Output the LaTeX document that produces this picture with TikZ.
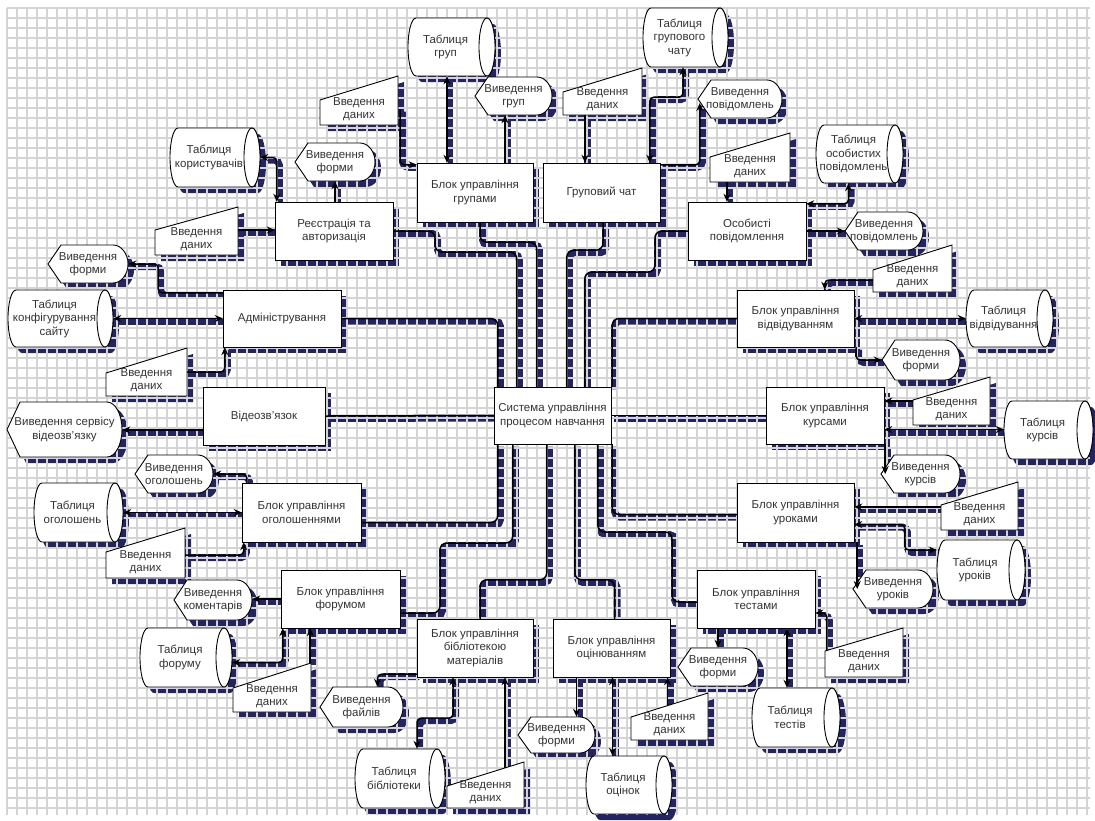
\documentclass[tikz,border=0pt]{standalone}
\usepackage{fontspec}
\setmainfont{Liberation Sans}
\usetikzlibrary{arrows.meta,calc}
\pgfdeclarelayer{shadow}
\pgfdeclarelayer{grid}
\pgfdeclarelayer{shapes}
\pgfsetlayers{shadow,grid,shapes,main}
\definecolor{shc}{RGB}{36,36,96}
\definecolor{gridc}{RGB}{212,212,212}
\tikzset{
  outl/.style={draw=black,line width=0.9pt,fill=white},
  txt/.style={font=\fontsize{11.5}{13.5}\selectfont,align=center,inner sep=0pt,text=black!80},
  wire/.style={draw=black,line width=1.5pt,rounded corners=4pt},
  cwire/.style={rounded corners=7pt},
  band/.style={draw=shc,line width=7pt,rounded corners=5pt},
  arr/.style={-{Stealth[length=8pt,width=7pt]}},
  biarr/.style={{Stealth[length=8pt,width=7pt]}-{Stealth[length=8pt,width=7pt]}},
}
% process box: name x1 y1 x2 y2 text
\newcommand\procnode[6]{%
  \begin{pgfonlayer}{shadow}\fill[shc] (#2+6,-#3-6) rectangle (#4+6,-#5-6);\end{pgfonlayer}
  \begin{pgfonlayer}{shapes}\draw[outl] (#2,-#3) rectangle (#4,-#5);\end{pgfonlayer}
  \node[txt,minimum width={(#4-#2)*1pt},minimum height={(#5-#3)*1pt}] (#1) at ({(#2+#4)/2},{-(#3+#5)/2}) {#6};}
% cylinder
\newcommand\cylnode[6]{%
  \pgfmathsetmacro\hh{(#5-#3)/2}%
  \begin{pgfonlayer}{shadow}\fill[shc,shift={(6,-6)}] (#2+8,-#3) -- (#4-8,-#3) arc[start angle=90,end angle=-90,x radius=8,y radius=\hh] -- (#2+8,-#5) arc[start angle=270,end angle=90,x radius=8,y radius=\hh] -- cycle;\end{pgfonlayer}
  \begin{pgfonlayer}{shapes}\draw[outl] (#2+8,-#3) -- (#4-8,-#3) arc[start angle=90,end angle=-90,x radius=8,y radius=\hh] -- (#2+8,-#5) arc[start angle=270,end angle=90,x radius=8,y radius=\hh] -- cycle;
  \draw[outl] (#4-8,{-(#3+#5)/2}) ellipse[x radius=8,y radius=\hh];\end{pgfonlayer}
  \node[inner sep=0pt,minimum width={(#4-#2)*1pt},minimum height={(#5-#3)*1pt}] (#1) at ({(#2+#4)/2},{-(#3+#5)/2}) {};
  \node[txt] (#1t) at ({(#2+#4)/2-6},{-(#3+#5)/2}) {#6};}
% display
\newcommand\dispnode[6]{%
  \pgfmathsetmacro\hh{(#5-#3)/2}%
  \begin{pgfonlayer}{shadow}\fill[shc,shift={(6,-6)}] (#2,{-(#3+#5)/2}) -- (#2+13,-#3) -- (#4-15,-#3) arc[start angle=90,end angle=-90,x radius=15,y radius=\hh] -- (#2+13,-#5) -- cycle;\end{pgfonlayer}
  \begin{pgfonlayer}{shapes}\draw[outl] (#2,{-(#3+#5)/2}) -- (#2+13,-#3) -- (#4-15,-#3) arc[start angle=90,end angle=-90,x radius=15,y radius=\hh] -- (#2+13,-#5) -- cycle;\end{pgfonlayer}
  \node[txt,minimum width={(#4-#2)*1pt},minimum height={(#5-#3)*1pt}] (#1) at ({(#2+#4)/2},{-(#3+#5)/2}) {#6};}
% manual input: name x1 yleft x2 ytopright ybottom
\newcommand\ionode[6]{%
  \begin{pgfonlayer}{shadow}\fill[shc,shift={(6,-6)}] (#2,-#3) -- (#4,-#5) -- (#4,-#6) -- (#2,-#6) -- cycle;\end{pgfonlayer}
  \begin{pgfonlayer}{shapes}\draw[outl] (#2,-#3) -- (#4,-#5) -- (#4,-#6) -- (#2,-#6) -- cycle;\end{pgfonlayer}
  \node[txt,minimum width={(#4-#2)*1pt},minimum height=32pt] (#1) at ({(#2+#4)/2},{-#6+16}) {Введення\\даних};}
% connector with shadow band
\newcommand\conn[2]{%
  \begin{pgfonlayer}{shadow}\draw[band,transform canvas={xshift=2.5pt,yshift=-2.5pt}] #2;\end{pgfonlayer}
  \draw[wire,#1] #2;}
\begin{document}
\begin{tikzpicture}[x=1pt,y=1pt]
\useasboundingbox (0,0) rectangle (1095,-820);
\begin{pgfonlayer}{grid}
\foreach \i in {0,...,108} \draw[gridc,line width=1.1pt] (7+10*\i,-8) -- (7+10*\i,-815);
\foreach \j in {0,...,80} \draw[gridc,line width=1.1pt] (7,-8-10*\j) -- (1090,-8-10*\j);
\end{pgfonlayer}
% central box (no shadow)
\begin{pgfonlayer}{shapes}\draw[outl] (494,-387) rectangle (611,-444);\end{pgfonlayer}
\node[txt,minimum width=117pt,minimum height=57pt] (cs) at (552.5,-415.5) {Система управління\\процесом навчання};
% blocks
\procnode{grp}{417}{163}{533}{222}{Блок управління\\групами}
\procnode{gch}{543}{163}{660}{222}{Груповий чат}
\procnode{reg}{275}{202}{393}{260}{Реєстрація та\\авторизація}
\procnode{pm}{688}{202}{806}{260}{Особисті\\повідомлення}
\procnode{adm}{223}{290}{341}{347}{Адміністрування}
\procnode{att}{737}{290}{854}{347}{Блок управління\\відвідуванням}
\procnode{vid}{203}{387}{325}{445}{Відеозв’язок}
\procnode{crs}{766}{387}{884}{444}{Блок управління\\курсами}
\procnode{ann}{242}{483}{361}{542}{Блок управління\\оголошеннями}
\procnode{les}{737}{483}{854}{542}{Блок управління\\уроками}
\procnode{frm}{281}{570}{400}{628}{Блок управління\\форумом}
\procnode{tst}{697}{570}{815}{628}{Блок управління\\тестами}
\procnode{lib}{417}{619}{533}{677}{Блок управління\\бібліотекою\\матеріалів}
\procnode{grd}{553}{619}{670}{677}{Блок управління\\оцінюванням}
% tables
\cylnode{tgrp}{408}{18}{495}{76}{Таблиця\\груп}
\cylnode{tgch}{643}{8}{728}{67}{Таблиця\\групового\\чату}
\cylnode{tpm}{816}{125}{903}{183}{Таблиця\\особистих\\повідомлень}
\cylnode{tatt}{966}{290}{1053}{347}{Таблиця\\відвідування}
\cylnode{tcrs}{1004}{401}{1093}{459}{Таблиця\\курсів}
\cylnode{tles}{937}{540}{1025}{600}{Таблиця\\уроків}
\cylnode{ttst}{752}{688}{840}{747}{Таблиця\\тестів}
\cylnode{tgrd}{586}{756}{672}{814}{Таблиця\\оцінок}
\cylnode{tlib}{355}{749}{445}{808}{Таблиця\\бібліотеки}
\cylnode{tfrm}{140}{628}{232}{687}{Таблиця\\форуму}
\cylnode{tann}{34}{483}{123}{542}{Таблиця\\оголошень}
\cylnode{tadm}{8}{290}{113}{347}{Таблиця\\конфігурування\\сайту}
\cylnode{treg}{170}{128}{260}{187}{Таблиця\\користувачів}
% displays
\dispnode{ogrp}{475}{77}{552}{115}{Виведення\\груп}
\dispnode{ogch}{698}{80}{782}{118}{Виведення\\повідомлень}
\dispnode{opm}{845}{212}{923}{250}{Виведення\\повідомлень}
\dispnode{oatt}{882}{340}{960}{380}{Виведення\\форми}
\dispnode{ocrs}{881}{455}{960}{493}{Виведення\\курсів}
\dispnode{oles}{853}{570}{933}{608}{Виведення\\уроків}
\dispnode{otst}{678}{648}{758}{686}{Виведення\\форми}
\dispnode{ogrd}{518}{717}{595}{753}{Виведення\\форми}
\dispnode{olib}{320}{687}{403}{727}{Виведення\\файлів}
\dispnode{ofrm}{174}{580}{252}{620}{Виведення\\коментарів}
\dispnode{oann}{135}{455}{213}{493}{Виведення\\оголошень}
\dispnode{ovid}{7}{402}{122}{457}{Виведення сервісу\\відеозв’язку}
\dispnode{oadm}{48}{245}{128}{283}{Виведення\\форми}
\dispnode{oreg}{295}{143}{375}{181}{Виведення\\форми}
% inputs
\ionode{igrp}{320}{100}{398}{76}{125}
\ionode{igch}{563}{92}{642}{68}{115}
\ionode{ipm}{710}{157}{790}{133}{182}
\ionode{iatt}{873}{270}{952}{245}{292}
\ionode{icrs}{913}{400}{990}{377}{425}
\ionode{iles}{941}{505}{1018}{482}{530}
\ionode{itst}{825}{651}{903}{628}{677}
\ionode{igrd}{631}{717}{708}{693}{740}
\ionode{ilib}{447}{786}{524}{762}{808}
\ionode{ifrm}{233}{688}{311}{663}{712}
\ionode{iann}{106}{552}{185}{528}{578}
\ionode{iadm}{106}{373}{187}{348}{396}
\ionode{ireg}{155}{230}{238}{207}{255}
% central connectors
\conn{cwire}{(adm.east) -| ([xshift=4]cs.north west)}
\conn{cwire}{(reg.east) -| (435,-252) -| ([xshift=23]cs.north west)}
\conn{cwire}{([xshift=5]grp.south) -- ++(0,-20) -| ([xshift=43]cs.north west)}
\conn{cwire}{([xshift=1.5]gch.south) -- ++(0,-28) -| ([xshift=73]cs.north west)}
\conn{cwire}{(pm.west) -| (655,-272) -| ([xshift=91]cs.north west)}
\conn{cwire}{(att.west) -| ([xshift=1]cs.north east)}
\conn{cwire}{(vid.east) -- (cs.west)}
\conn{cwire}{(crs.west) -- (cs.east)}
\conn{cwire}{([yshift=-10]ann.east) -| ([xshift=4]cs.south west)}
\conn{cwire}{([yshift=-14]frm.east) -| (440,-543) -| ([xshift=19]cs.south west)}
\conn{cwire}{([xshift=5]lib.north) -- ++(0,39) -| ([xshift=53]cs.south west)}
\conn{cwire}{([xshift=3]grd.north) -- ++(0,39) -| ([xshift=81]cs.south west)}
\conn{cwire}{([yshift=-3]tst.west) -| (672,-532) -| ([xshift=104]cs.south west)}
\conn{cwire}{([yshift=-2]les.west) -| ([xshift=1]cs.south east)}
% peripheral connectors
\conn{biarr}{([xshift=2]reg.north west) |- (treg.east)}
\conn{arr}{(oreg.south |- reg.north) -- (oreg.south)}
\conn{arr}{([yshift=9]ireg.east) -- ([yshift=9]ireg.east -| reg.west)}
\conn{arr}{([yshift=-3]adm.north west) -| ([xshift=30]oadm.east) -- (oadm.east)}
\conn{biarr}{(tadm.east) -- (adm.west)}
\conn{arr}{([yshift=8]iadm.east) -| ([xshift=2]adm.south west)}
\conn{arr}{([yshift=-14]vid.west) -- ([yshift=-14]vid.west -| ovid.east)}
\conn{arr}{([xshift=5]ann.north west) |- (oann.east)}
\conn{biarr}{(tann.east) -- (ann.west)}
\conn{arr}{([yshift=7]iann.east) -| ([xshift=2]ann.south west)}
\conn{arr}{(frm.west) -- (frm.west -| ofrm.east)}
\conn{biarr}{([yshift=-5]tfrm.east) -| ([xshift=2]frm.south west)}
\conn{arr}{([xshift=-1,yshift=17]ifrm.north east) -- ([xshift=-1]ifrm.north east |- frm.south)}
\conn{arr}{([yshift=3]lib.south west) -| ([xshift=16]olib.north)}
\conn{biarr}{([xshift=-22]lib.south) -- ++(0,-41) -| ([xshift=17]tlib.north)}
\conn{arr}{([xshift=19.5,yshift=8]ilib.north) -- ([xshift=19.5]ilib.north |- lib.south)}
\conn{arr}{([xshift=20]ogrd.north |- grd.south) -- ([xshift=20]ogrd.north)}
\conn{biarr}{([xshift=1]grd.south) -- ([xshift=1]grd.south |- tgrd.north)}
\conn{arr}{([xshift=-2,yshift=3]igrd.north) -- ([xshift=-2]igrd.north |- grd.south)}
\conn{arr}{(otst.north |- tst.south) -- (otst.north)}
\conn{biarr}{([xshift=-9]ttst.north |- tst.south) -- ([xshift=-9]ttst.north)}
\conn{arr}{([xshift=2,yshift=-6]itst.north west) |- ([yshift=-14]tst.east)}
\conn{arr}{([yshift=7]iles.west) -- ([yshift=7]iles.west -| les.east)}
\conn{biarr}{([yshift=-12]les.east) -| ([xshift=-32,yshift=20]tles.west) -- ([yshift=20]tles.west)}
\conn{arr}{([xshift=3]les.south east) -- ([xshift=3]les.south east |- oles.west)}
\conn{arr}{([yshift=8]icrs.west) -- ([yshift=8]icrs.west -| crs.east)}
\conn{biarr}{([yshift=-14]crs.east) -- ([yshift=-14]crs.east -| tcrs.west)}
\conn{arr}{([xshift=1]crs.south east) -- ([xshift=1]crs.south east |- ocrs.west)}
\conn{arr}{([yshift=-4]iatt.west) -| ([xshift=88]att.north west)}
\conn{biarr}{(att.east) -- (tatt.west)}
\conn{arr}{([xshift=2]att.south east) |- (oatt.west)}
\conn{biarr}{([yshift=-2]pm.north east) -| ([xshift=-11]tpm.south)}
\conn{arr}{(pm.east) -- (opm.west)}
\conn{arr}{([xshift=-23]ipm.south) -- ([xshift=-23]ipm.south |- pm.north)}
\conn{biarr}{([xshift=-2.5]tgch.south) -- ++(0,-30) -| ([xshift=107]gch.north west)}
\conn{arr}{([xshift=-17.5]igch.south) -- ([xshift=-17.5]igch.south |- gch.north)}
\conn{arr}{([yshift=-2]gch.north east) -| ([xshift=2,yshift=-4]ogch.west)}
\conn{biarr}{([xshift=-4.5]tgrp.south) -- ([xshift=-4.5]tgrp.south |- grp.north)}
\conn{arr}{([xshift=-8.5]ogrp.south |- grp.north) -- ([xshift=-8.5]ogrp.south)}
\conn{arr}{([xshift=2]igrp.east) |- ([yshift=-2]grp.north west)}
\end{tikzpicture}
\end{document}
